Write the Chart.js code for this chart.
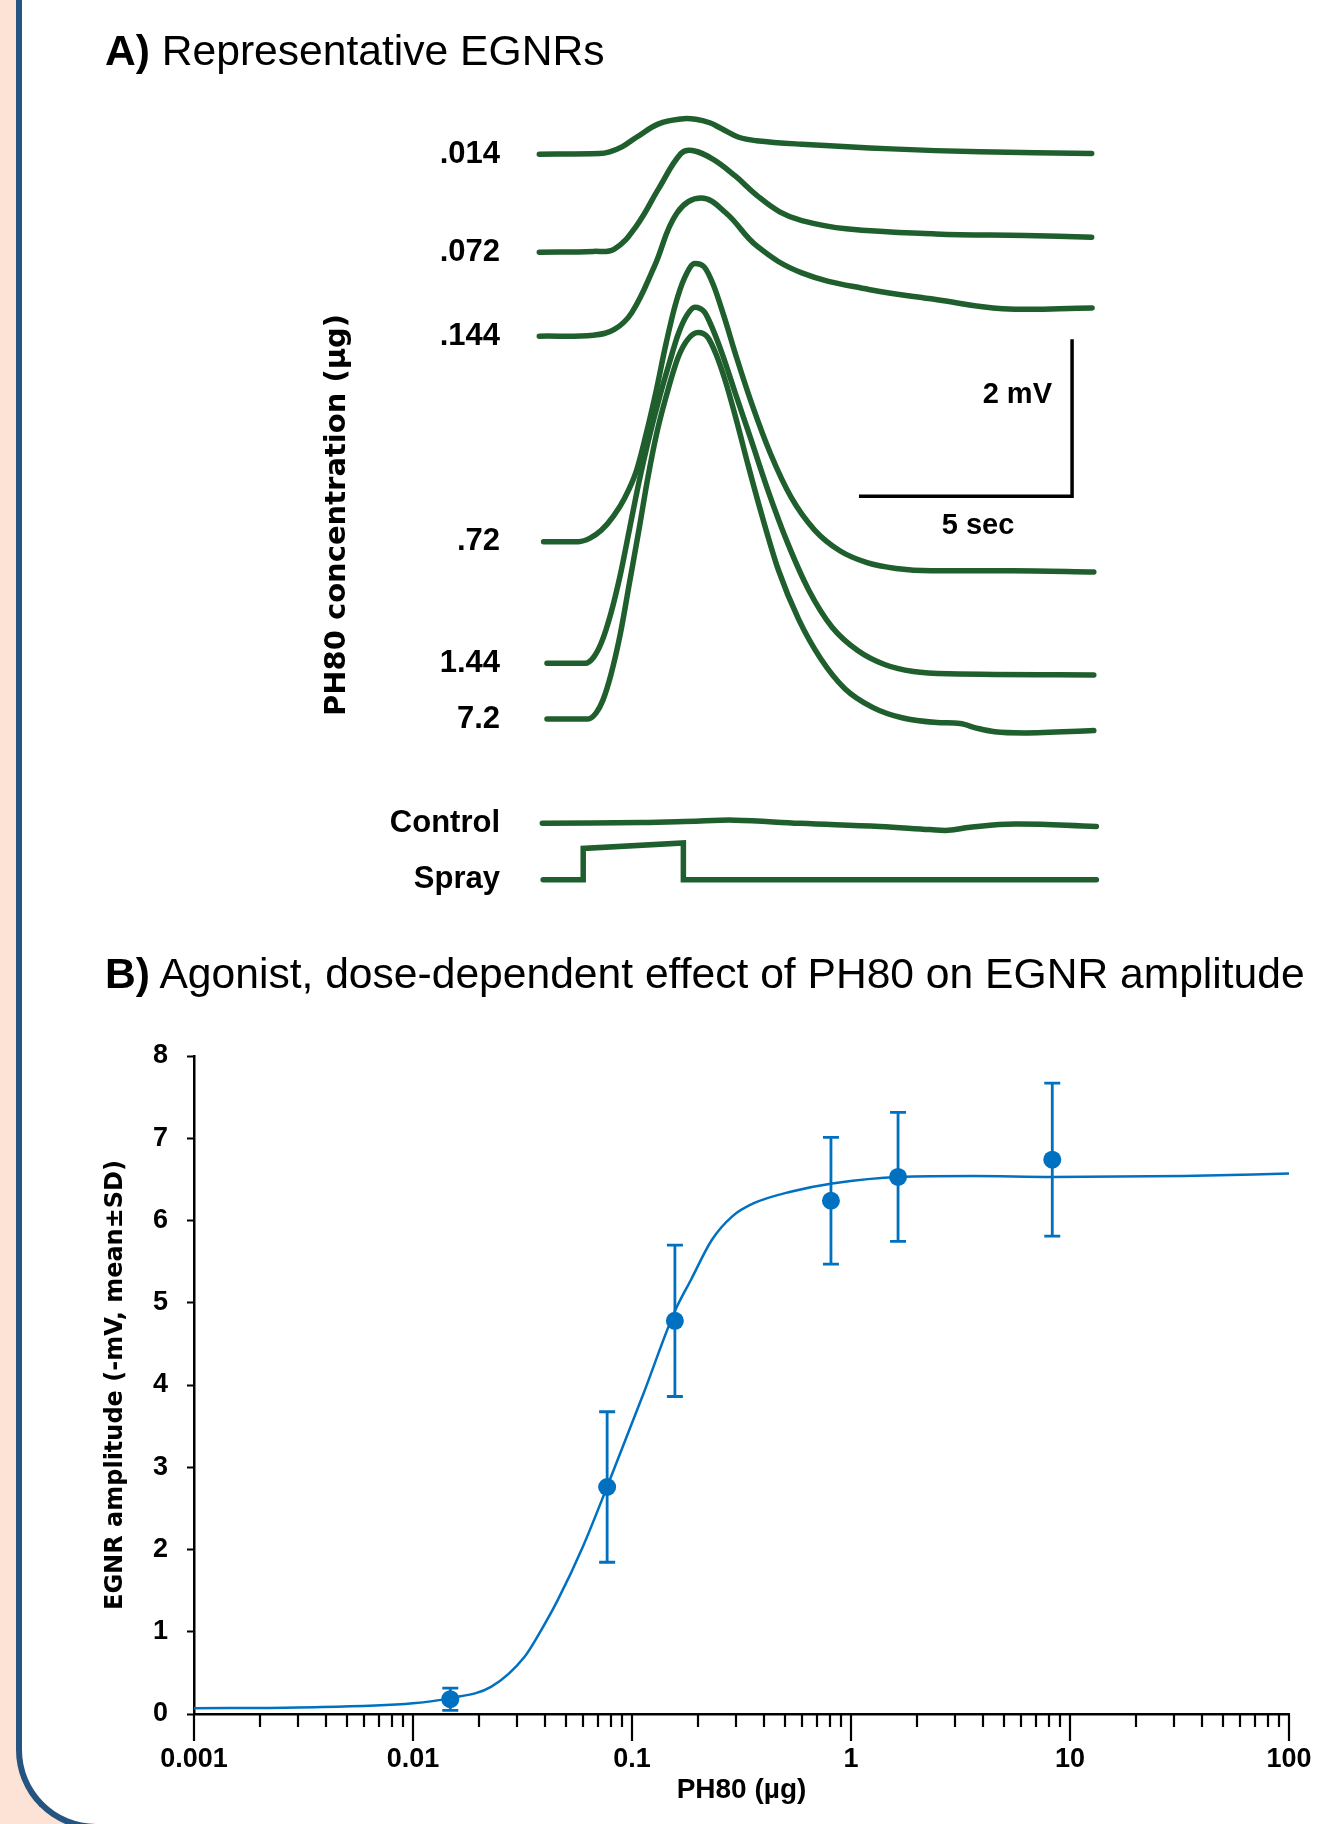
<!DOCTYPE html>
<html>
<head>
<meta charset="utf-8">
<script src="https://cdn.jsdelivr.net/npm/chart.js@4.4.1/dist/chart.umd.min.js"></script>
<style>
  html, body { margin: 0; padding: 0; }
  body {
    width: 1322px; height: 1824px; position: relative; overflow: hidden;
    background: #fce3d5;
    font-family: "Liberation Sans", Arial, sans-serif; color: #000;
  }
  #frame {
    position: absolute; left: 16px; top: -10px; width: 1400px; height: 1840px;
    box-sizing: border-box; background: #fff;
    border-left: 6px solid #255480; border-bottom: 6px solid #255480;
    border-bottom-left-radius: 80px;
  }
  canvas { position: absolute; left: 0; }
  #traces { top: 0; }
  #dose { top: 1000px; }
  .txt { position: absolute; white-space: nowrap; }
  .title { font-size: 42.6px; line-height: 42px; left: 105px; }
  .bar { font-size: 29px; line-height: 29px; font-weight: bold; }
</style>
</head>
<body>
<div id="frame"></div>
<canvas id="traces" width="1322" height="1000"></canvas>
<canvas id="dose" width="1322" height="824"></canvas>

<div class="txt title" style="top:29px"><b>A)</b> Representative EGNRs</div>
<div class="txt title" style="top:952px"><b>B)</b> Agonist, dose-dependent effect of PH80 on EGNR amplitude</div>
<div class="txt bar" style="top:379px; right:270px">2 mV</div>
<div class="txt bar" style="top:510px; left:978px; transform:translateX(-50%)">5 sec</div>

<script>
// ---------- Panel A: representative traces (time in s, amplitude in mV) ----------
const traceLabels = [".014", ".072", ".144", ".72", "1.44", "7.2", "Control", "Spray"];
// vertical stacking offset of each trace baseline (mV)
const traceOffsets = [9.51, 8.26, 7.19, 4.57, 3.02, 2.31, 0.98, 0.26];

const t14ng = [0, 1.41, 1.65, 1.95, 2.28, 2.80, 3.32, 3.67, 4.00, 4.27, 4.68, 5.09, 6.16, 8.26, 10.34, 12.96];
const mv14ng = [0, 0.007, 0.03, 0.096, 0.215, 0.386, 0.449, 0.445, 0.40, 0.326, 0.215, 0.171, 0.126, 0.067, 0.03, 0.007];

const t72ng = [0, 1.27, 1.76, 2.28, 2.80, 3.32, 3.59, 4.06, 4.59, 5.11, 5.64, 6.16, 7.20, 9.30, 11.40, 12.96];
const mv72ng = [0, 0.01, 0.04, 0.337, 0.81, 1.256, 1.297, 1.19, 0.975, 0.722, 0.515, 0.403, 0.298, 0.233, 0.212, 0.191];

const t144ng = [0, 1.27, 1.76, 2.17, 2.70, 3.23, 3.80, 4.38, 5.11, 6.16, 7.73, 9.30, 10.87, 12.97];
const mv144ng = [0, 0.012, 0.085, 0.30, 0.89, 1.57, 1.76, 1.57, 1.147, 0.807, 0.595, 0.467, 0.35, 0.36];

const t720ng = [0.10, 0.92, 1.19, 1.46, 1.74, 2.01, 2.28, 2.53, 2.75, 2.96, 3.18, 3.40, 3.65, 3.87, 4.08, 4.33, 4.63, 4.99, 5.42, 5.91, 6.46, 7.06, 7.69, 8.37, 9.19, 11.10, 13.01];
const mv720ng = [0, 0, 0.045, 0.148, 0.326, 0.564, 0.905, 1.424, 1.943, 2.492, 2.996, 3.352, 3.545, 3.501, 3.278, 2.878, 2.344, 1.750, 1.127, 0.564, 0.148, -0.119, -0.267, -0.341, -0.371, -0.371, -0.386];

const t1440ng = [0.18, 1.08, 1.27, 1.46, 1.68, 1.90, 2.12, 2.34, 2.55, 2.80, 3.05, 3.26, 3.46, 3.65, 3.87, 4.06, 4.30, 4.60, 4.96, 5.37, 5.83, 6.32, 6.87, 7.47, 8.10, 8.78, 9.60, 13.01];
const mv1440ng = [0, 0, 0.074, 0.267, 0.638, 1.127, 1.721, 2.314, 2.818, 3.352, 3.827, 4.198, 4.435, 4.539, 4.480, 4.272, 3.931, 3.441, 2.863, 2.195, 1.528, 0.935, 0.460, 0.163, -0.015, -0.104, -0.134, -0.148];

const t7200ng = [0.18, 1.14, 1.33, 1.49, 1.68, 1.90, 2.12, 2.34, 2.55, 2.77, 3.02, 3.26, 3.48, 3.73, 3.95, 4.14, 4.36, 4.63, 4.90, 5.23, 5.61, 6.08, 6.60, 7.17, 7.82, 8.51, 9.33, 9.87, 10.28, 10.69, 11.37, 13.01];
const mv7200ng = [0, 0, 0.074, 0.237, 0.564, 1.083, 1.750, 2.418, 3.085, 3.679, 4.198, 4.613, 4.836, 4.925, 4.866, 4.658, 4.317, 3.798, 3.234, 2.581, 1.899, 1.276, 0.771, 0.386, 0.148, 0.015, -0.045, -0.059, -0.119, -0.163, -0.178, -0.148];

const tControl = [0.07, 2.39, 3.78, 4.58, 6.12, 7.99, 9.17, 9.60, 10.11, 11.15, 13.07];
const mvControl = [0, 0.01, 0.03, 0.04, 0, -0.04, -0.08, -0.09, -0.05, -0.01, -0.04];

const tSpray = [0.09, 1.03, 1.03, 3.38, 3.38, 13.07];
const mvSpray = [0, 0, 0.40, 0.47, 0, 0];

// scale bar: 5 sec x 2 mV
const scaleBarT = [7.5, 12.5, 12.5];
const scaleBarMv = [5.15, 5.15, 7.15];

// ---------- Panel B: dose-response ----------
const doseX = [0.0148, 0.077, 0.157, 0.81, 1.64, 8.3];
const meanAmp = [0.18, 2.76, 4.78, 6.24, 6.53, 6.74];
const sdAmp = [0.135, 0.915, 0.92, 0.77, 0.785, 0.93];

const fitX = [0.001, 0.003, 0.01, 0.0146, 0.0227, 0.0324, 0.0385, 0.0459, 0.060, 0.0769, 0.113, 0.157, 0.186, 0.231, 0.287, 0.36, 0.53, 0.82, 1.66, 3.65, 8.3, 33, 100];
const fitY = [0.07, 0.08, 0.13, 0.19, 0.33, 0.70, 1.02, 1.39, 2.05, 2.76, 3.9, 4.9, 5.28, 5.76, 6.05, 6.21, 6.35, 6.45, 6.53, 6.54, 6.53, 6.54, 6.57];

const xTickLabels = ["0.001", "0.01", "0.1", "1", "10", "100"];
const yTicks = [0, 1, 2, 3, 4, 5, 6, 7, 8];

const GREEN = "#1f5e2d";
const BLUE = "#0070c0";

Chart.defaults.font.family = "'Liberation Sans', Arial, sans-serif";
Chart.defaults.color = "#000";

const toPoints = (xs, ys, off) => xs.map((x, i) => ({ x: x, y: ys[i] + (off || 0) }));

// mode: "monotone" for the steep traces, spline tension for the gentle ones
const trace = (xs, ys, k, mode) => ({
  data: toPoints(xs, ys, traceOffsets[k]),
  borderColor: GREEN,
  borderWidth: 5.5,
  pointRadius: 0,
  cubicInterpolationMode: mode,
  tension: mode === "monotone" ? 0 : 0.4,
  borderCapStyle: "round",
  borderJoinStyle: "round",
  clip: false,
});

const noEdgePadding = (s) => {
  s.paddingLeft = 0; s.paddingRight = 0; s.paddingTop = 0; s.paddingBottom = 0;
};

new Chart(document.getElementById("traces"), {
  type: "line",
  data: {
    datasets: [
      trace(t14ng, mv14ng, 0, "default"),
      trace(t72ng, mv72ng, 1, "default"),
      trace(t144ng, mv144ng, 2, "default"),
      trace(t720ng, mv720ng, 3, "monotone"),
      trace(t1440ng, mv1440ng, 4, "monotone"),
      trace(t7200ng, mv7200ng, 5, "monotone"),
      trace(tControl, mvControl, 6, "default"),
      {
        data: toPoints(tSpray, mvSpray, traceOffsets[7]),
        borderColor: GREEN, borderWidth: 5.5, pointRadius: 0, tension: 0,
        borderCapStyle: "round", borderJoinStyle: "miter", clip: false,
      },
      {
        data: toPoints(scaleBarT, scaleBarMv),
        borderColor: "#000", borderWidth: 3.5, pointRadius: 0, tension: 0,
        borderCapStyle: "butt", borderJoinStyle: "miter", clip: false,
      },
    ],
  },
  options: {
    responsive: false,
    animation: false,
    events: [],
    layout: { padding: { top: 100, right: 186, bottom: 70, left: 0 } },
    plugins: { legend: { display: false }, tooltip: { enabled: false } },
    scales: {
      x: { type: "linear", display: false, min: -0.5, max: 14 },
      y: {
        type: "linear", min: -0.38, max: 10.2,
        afterBuildTicks: (s) => { s.ticks = traceOffsets.map((v) => ({ value: v })); },
        afterFit: (s) => { s.width = 518; noEdgePadding(s); },
        grid: { display: false, drawTicks: false },
        border: { display: false },
        ticks: {
          autoSkip: false, padding: 18, color: "#000",
          font: { size: 31, weight: "bold" },
          callback: (v, i) => traceLabels[i],
        },
        title: {
          display: true, text: "PH80 concentration (µg)", color: "#000",
          font: { family: "'DejaVu Sans', sans-serif", size: 29, weight: "bold" },
          padding: { top: 319.6, bottom: 0 },
        },
      },
    },
  },
});

// ---- dose-response chart ----
const xTickValues = [];
[0.001, 0.01, 0.1, 1, 10].forEach((d) => {
  for (let k = 1; k <= 9; k++) xTickValues.push(Number((d * k).toPrecision(6)));
});
xTickValues.push(100);

const isDecade = (v) => Math.abs(Math.log10(v) - Math.round(Math.log10(v))) < 1e-6;

// error bars (mean ± SD) drawn through the chart scales
const errorBars = {
  id: "errorBars",
  afterDatasetsDraw(chart) {
    const { ctx, scales: { x, y } } = chart;
    ctx.save();
    ctx.strokeStyle = BLUE;
    ctx.lineWidth = 2.8;
    ctx.beginPath();
    doseX.forEach((d, i) => {
      const px = x.getPixelForValue(d);
      const top = y.getPixelForValue(meanAmp[i] + sdAmp[i]);
      const bot = y.getPixelForValue(meanAmp[i] - sdAmp[i]);
      ctx.moveTo(px, top); ctx.lineTo(px, bot);
      ctx.moveTo(px - 8, top); ctx.lineTo(px + 8, top);
      ctx.moveTo(px - 8, bot); ctx.lineTo(px + 8, bot);
    });
    ctx.stroke();
    ctx.restore();
  },
};

// long decade ticks and short minor ticks below the log axis
const logTicks = {
  id: "logTicks",
  afterDraw(chart) {
    const xs = chart.scales.x;
    const ctx = chart.ctx;
    ctx.save();
    ctx.strokeStyle = "#000";
    ctx.lineWidth = 2.2;
    ctx.beginPath();
    xs.ticks.forEach((t) => {
      const px = Math.round(xs.getPixelForValue(t.value));
      const len = isDecade(t.value) ? 27 : 13;
      ctx.moveTo(px, xs.top);
      ctx.lineTo(px, xs.top + len);
    });
    ctx.stroke();
    ctx.restore();
  },
};

new Chart(document.getElementById("dose"), {
  type: "scatter",
  data: {
    datasets: [
      {
        data: toPoints(fitX, fitY),
        showLine: true, pointRadius: 0, borderColor: BLUE, borderWidth: 2.5,
        cubicInterpolationMode: "monotone", order: 2,
      },
      {
        data: toPoints(doseX, meanAmp),
        pointRadius: 9, pointBackgroundColor: BLUE, pointBorderWidth: 0, order: 1,
      },
    ],
  },
  options: {
    responsive: false,
    animation: false,
    events: [],
    layout: { padding: { top: 56, right: 33, left: 0, bottom: 0 } },
    plugins: { legend: { display: false }, tooltip: { enabled: false } },
    scales: {
      x: {
        type: "logarithmic", min: 0.001, max: 100,
        afterBuildTicks: (s) => { s.ticks = xTickValues.map((v) => ({ value: v })); },
        afterFit: (s) => { s.height = 110; noEdgePadding(s); },
        grid: { display: false, drawTicks: false },
        border: { color: "#000", width: 2.5 },
        ticks: {
          autoSkip: false, maxRotation: 0, padding: 29, color: "#000",
          font: { size: 27, weight: "bold" },
          callback: (v) => (isDecade(v) ? xTickLabels[Math.round(Math.log10(v)) + 3] : ""),
        },
        title: {
          display: true, text: "PH80 (µg)", color: "#000",
          font: { size: 28, weight: "bold" },
          padding: { top: 0, bottom: 17 },
        },
      },
      y: {
        min: 0, max: 8,
        afterBuildTicks: (s) => { s.ticks = yTicks.map((v) => ({ value: v })); },
        afterFit: (s) => { s.width = 194; noEdgePadding(s); },
        grid: { drawOnChartArea: false, drawTicks: true, tickLength: 7, tickColor: "#000", tickWidth: 2 },
        border: { color: "#000", width: 2.5 },
        ticks: { padding: 19, color: "#000", font: { size: 27, weight: "bold" } },
        title: {
          display: true, text: "EGNR amplitude (-mV, mean±SD)", color: "#000",
          font: { family: "'DejaVu Sans', sans-serif", size: 24, weight: "bold" },
          padding: { top: 101.6, bottom: 0 },
        },
      },
    },
  },
  plugins: [errorBars, logTicks],
});
</script>
</body>
</html>
